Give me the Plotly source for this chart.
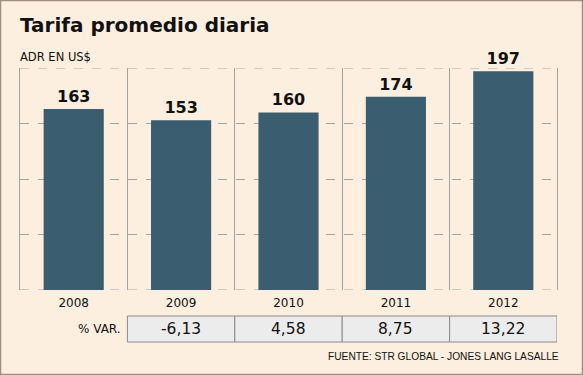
import plotly.graph_objects as go

years = ["2008", "2009", "2010", "2011", "2012"]
adr_values = [163, 153, 160, 174, 197]
var_labels = ["-6,13", "4,58", "8,75", "13,22"]
var_years = ["2009", "2010", "2011", "2012"]
y_range = [0, 200]

BG = "#fcefdf"
BAR = "#3a5e6f"
GRID = "#a3a3a3"
W, H = 583, 375
L, R, T, B = 20, 26, 68, 85
PW, PH = W - L - R, H - T - B

def px_x(px):
    return (px - L) / PW

def px_y(py):
    return (H - B - py) / PH

xpos = list(range(len(years)))

fig = go.Figure()
fig.add_trace(go.Bar(
    x=xpos, y=adr_values,
    marker=dict(color=BAR, line=dict(width=0)),
    text=[str(v) for v in adr_values],
    textposition="outside",
    textfont=dict(family="DejaVu Sans", size=16, color="#111111", weight="bold"),
    constraintext="none",
    cliponaxis=False,
    width=0.56,
    hoverinfo="skip",
))

shapes = []
annotations = []

# dashed gridlines at the bottom and top of the value range
for yv in y_range:
    shapes.append(dict(type="line", xref="paper", yref="y", x0=0, x1=1, y0=yv, y1=yv,
                       line=dict(color=GRID, width=1, dash="dash"), layer="below"))

# % VAR. table cells aligned with categories
cell_top, cell_bot = px_y(316), px_y(342)
for lab, yr in zip(var_labels, var_years):
    i = years.index(yr)
    shapes.append(dict(type="rect", xref="x", yref="paper",
                       x0=i - 0.5, x1=i + 0.5, y0=cell_bot, y1=cell_top,
                       fillcolor="#ececec", line=dict(color="#8a8a8a", width=1),
                       layer="above"))
    annotations.append(dict(xref="x", yref="paper", x=i, y=(cell_top + cell_bot) / 2,
                            text=lab, showarrow=False, xanchor="center", yanchor="middle",
                            font=dict(family="DejaVu Sans", size=15.5, color="#111111")))

annotations.append(dict(xref="x", yref="paper", x=0.5, xshift=-4, y=(cell_top + cell_bot) / 2,
                        text="% VAR.", showarrow=False, xanchor="right", yanchor="middle",
                        font=dict(family="DejaVu Sans", size=12, color="#111111")))

annotations.append(dict(xref="paper", yref="paper", x=px_x(18), y=px_y(25),
                        text="<b>Tarifa promedio diaria</b>", showarrow=False,
                        xanchor="left", yanchor="middle",
                        font=dict(family="DejaVu Sans", size=20, color="#111111")))
annotations.append(dict(xref="paper", yref="paper", x=px_x(18), y=px_y(57),
                        text="ADR EN US$", showarrow=False,
                        xanchor="left", yanchor="middle",
                        font=dict(family="DejaVu Sans", size=11.5, color="#111111")))
annotations.append(dict(xref="paper", yref="paper", x=px_x(561), y=px_y(356),
                        text="FUENTE: STR GLOBAL - JONES LANG LASALLE", showarrow=False,
                        xanchor="right", yanchor="middle",
                        font=dict(family="Liberation Sans", size=10.2, color="#111111")))

# outer frame of the graphic
shapes.append(dict(type="rect", xref="paper", yref="paper",
                   x0=px_x(0.5), x1=px_x(582.5), y0=px_y(374.5), y1=px_y(0.5),
                   line=dict(color="#a08c84", width=1.5), layer="above"))

fig.update_layout(
    width=W, height=H,
    margin=dict(l=L, r=R, t=T, b=B),
    paper_bgcolor=BG, plot_bgcolor=BG,
    showlegend=False,
    bargap=0.44,
    shapes=shapes,
    annotations=annotations,
    xaxis=dict(
        range=[-0.5, 4.5],
        tickvals=xpos, ticktext=years,
        showgrid=False, zeroline=False, showline=False,
        ticks="", ticklabelstandoff=4,
        tickfont=dict(family="DejaVu Sans", size=12, color="#111111"),
        minor=dict(tick0=-0.5, dtick=1, showgrid=True, gridcolor=GRID, gridwidth=1, ticks=""),
        fixedrange=True,
    ),
    yaxis=dict(
        range=y_range, dtick=50,
        showticklabels=False, ticks="",
        showgrid=True, gridcolor=GRID, griddash="dash", gridwidth=1,
        zeroline=False,
        showline=True, mirror=True, linecolor=GRID, linewidth=1,
        fixedrange=True,
    ),
)

fig.write_html("out.html", config={"displayModeBar": False},
               post_script="document.body.style.margin='0';document.body.style.overflow='hidden';")
